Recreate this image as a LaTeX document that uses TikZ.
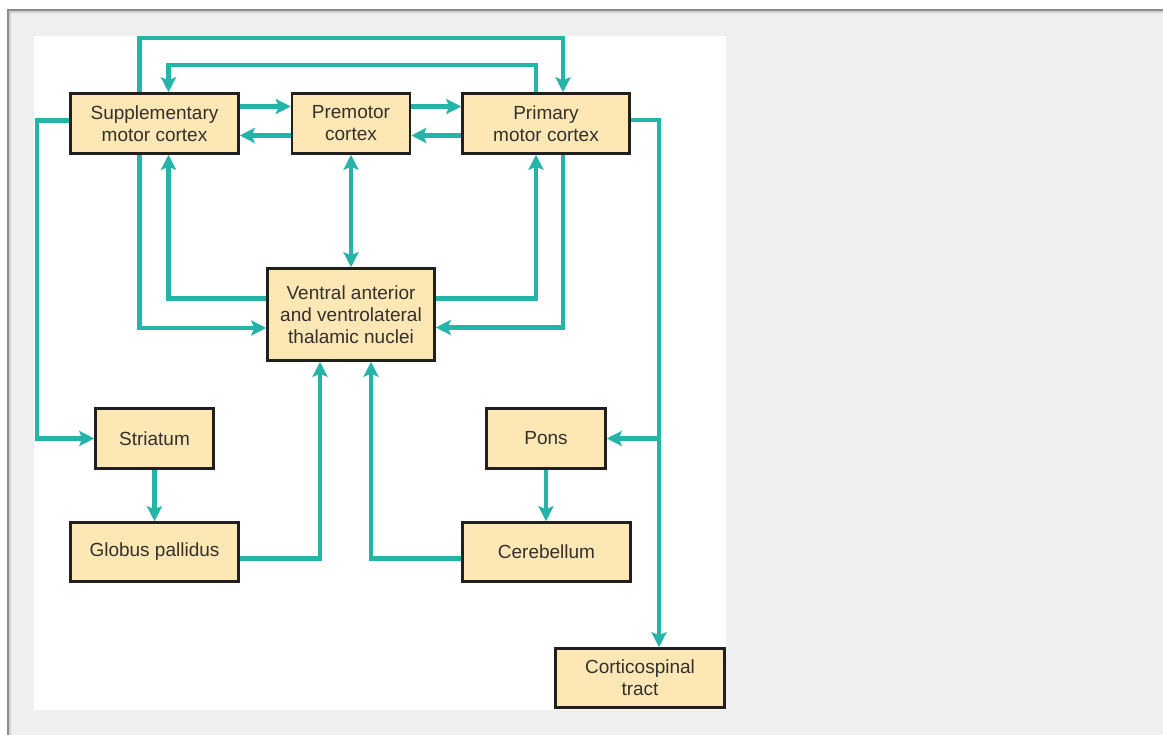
\documentclass[tikz,border=0pt]{standalone}
\usepackage{fontspec}
\setmainfont{Liberation Sans}
\usetikzlibrary{arrows.meta}

\definecolor{tractteal}{RGB}{36,180,168}
\definecolor{boxfill}{RGB}{252,231,181}
\definecolor{boxline}{RGB}{34,32,30}
\definecolor{labelgray}{RGB}{52,48,44}
\definecolor{pagegray}{RGB}{239,239,239}
\definecolor{framegray}{RGB}{140,140,140}

\begin{document}
\begin{tikzpicture}[x=1pt,y=-1pt,
    area/.style={draw=boxline,line width=2.5pt,fill=boxfill,inner sep=0pt,
      align=center,text=labelgray,font=\fontsize{19}{22}\selectfont},
    link/.style={draw=tractteal,line width=4.2pt,
      -{Stealth[length=15pt,width=15pt,inset=3pt]}},
    both/.style={link,{Stealth[length=15pt,width=15pt,inset=3pt]}-{Stealth[length=15pt,width=15pt,inset=3pt]}}]

  % ====================================================
  % PAGE AND PANEL
  % ====================================================
  \useasboundingbox (0,0) rectangle (1163,735);
  \fill[white] (0,0) rectangle (1163,735);
  \fill[pagegray] (8,10) rectangle (1163,735);
  \draw[framegray,line width=2pt] (8,735) -- (8,10) -- (1163,10);
  \draw[framegray!40,line width=2pt] (10,735) -- (10,12) -- (1163,12);
  \fill[white] (34,36) rectangle (726,710);

  % ====================================================
  % BOXES
  % ====================================================

  % CORTEX ROW
  \node[area,minimum width=168,minimum height=60] (smc) at (154.5,123.5) {Supplementary\\motor cortex};
  \node[area,minimum width=118,minimum height=60] (pmc) at (351,123.5)   {Premotor\\cortex};
  \node[area,minimum width=167,minimum height=60] (m1)  at (546,123.5)   {Primary\\motor cortex};

  % THALAMUS
  \node[area,minimum width=167,minimum height=92] (thal) at (351,314.5) {Ventral anterior\\and ventrolateral\\thalamic nuclei};

  % LOOPS BELOW
  \node[area,minimum width=118,minimum height=60] (str)  at (154.5,438.5) {Striatum};
  \node[area,minimum width=168,minimum height=59] (gp)   at (154.5,552)   {Globus pallidus};
  \node[area,minimum width=119,minimum height=60] (pons) at (546,438.5)   {Pons};
  \node[area,minimum width=168,minimum height=59] (cbl)  at (546.5,552)   {Cerebellum};
  \node[area,minimum width=169,minimum height=59] (cst)  at (640,678)     {Corticospinal\\tract};

  % lanes for the long runs
  \coordinate (outerTop) at (0,38);
  \coordinate (innerTop) at (0,65);
  \coordinate (leftLane) at (37,0);
  \coordinate (spine) at ([xshift=19pt]cst.north);

  % ====================================================
  % CONNECTORS
  % ====================================================

  % over the top
  \draw[link] ([xshift=-15pt]smc.north) -- ([xshift=-15pt]smc.north |- outerTop) -| ([xshift=17pt]m1.north);
  \draw[link] ([xshift=-10pt]m1.north) -- ([xshift=-10pt]m1.north |- innerTop) -| ([xshift=14pt]smc.north);

  % along the cortex row
  \draw[link] ([yshift=17pt]smc.east) -- ([yshift=17pt]pmc.west);
  \draw[link] ([yshift=-12pt]pmc.west) -- ([yshift=-12pt]smc.east);
  \draw[link] ([yshift=17pt]pmc.east) -- ([yshift=17pt]m1.west);
  \draw[link] ([yshift=-12pt]m1.west) -- ([yshift=-12pt]pmc.east);

  % cortex and thalamus
  \draw[link] ([xshift=-15pt]smc.south) |- ([yshift=-13.5pt]thal.west);
  \draw[link] ([yshift=16pt]thal.west) -| ([xshift=14pt]smc.south);
  \draw[both] (pmc.south) -- (thal.north);
  \draw[link] ([yshift=16pt]thal.east) -| ([xshift=-10pt]m1.south);
  \draw[link] ([xshift=17pt]m1.south) |- ([yshift=-13pt]thal.east);

  % basal ganglia loop
  \draw[link] ([yshift=3pt]smc.west) -| (leftLane |- str.west) -- (str.west);
  \draw[link] (str.south) -- (gp.north);
  \draw[link] ([yshift=-6.5pt]gp.east) -| ([xshift=-31pt]thal.south);

  % cerebellar loop
  \draw[link] ([yshift=3.5pt]m1.east) -| (spine);
  \draw[link] (spine |- pons.east) -- (pons.east);
  \draw[link] (pons.south) -- (pons.south |- cbl.north);
  \draw[link] ([yshift=-6.5pt]cbl.west) -| ([xshift=20pt]thal.south);
\end{tikzpicture}
\end{document}
